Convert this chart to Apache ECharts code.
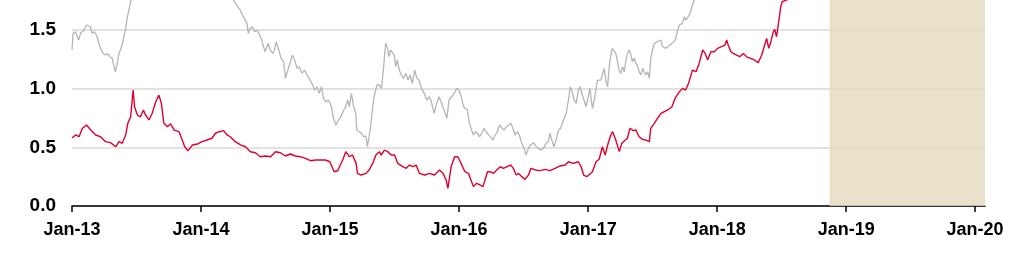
<!DOCTYPE html>
<html>
<head>
<meta charset="utf-8">
<script src="https://cdn.jsdelivr.net/npm/echarts@6/dist/echarts.min.js"></script>
<style>
html,body{margin:0;padding:0;background:#fff;}
#chart{width:1023px;height:275px;}
</style>
</head>
<body>
<div id="chart"></div>
<script>
// ---- data ----
const xTickDates = ['2013-01-01','2014-01-01','2015-01-01','2016-01-01','2017-01-01','2018-01-01','2019-01-01','2020-01-01'];
const xTickLabels = ['Jan-13','Jan-14','Jan-15','Jan-16','Jan-17','Jan-18','Jan-19','Jan-20'];
const yTicks = [0, 0.5, 1.0, 1.5];
const yTickLabels = ['0.0','0.5','1.0','1.5'];
const xStart = '2013-01-01';
const xEnd = '2020-01-29';
const yMax = 1.755;
const shadeStart = '2018-11-15';
const shadeEnd = '2020-01-29';

const redData = [
['2013-01-01',0.58],['2013-01-11',0.605],['2013-01-21',0.59],['2013-01-30',0.66],['2013-02-11',0.69],
['2013-02-23',0.647],['2013-03-09',0.605],['2013-03-23',0.59],['2013-04-06',0.548],['2013-04-20',0.54],
['2013-05-05',0.505],['2013-05-14',0.548],['2013-05-23',0.534],['2013-06-02',0.605],['2013-06-08',0.704],
['2013-06-16',0.76],['2013-06-23',0.988],['2013-06-27',0.846],['2013-07-05',0.775],['2013-07-14',0.76],
['2013-07-22',0.818],['2013-07-28',0.775],['2013-08-07',0.733],['2013-08-16',0.79],['2013-08-26',0.888],
['2013-09-04',0.945],['2013-09-11',0.875],['2013-09-18',0.704],['2013-09-28',0.675],['2013-10-07',0.70],
['2013-10-17',0.647],['2013-10-31',0.633],['2013-11-09',0.562],['2013-11-16',0.505],['2013-11-25',0.47],
['2013-12-08',0.52],['2013-12-22',0.528],['2014-01-04',0.548],['2014-01-18',0.562],['2014-02-01',0.577],
['2014-02-11',0.62],['2014-02-22',0.633],['2014-03-06',0.642],['2014-03-16',0.605],['2014-03-25',0.59],
['2014-04-08',0.548],['2014-04-23',0.52],['2014-05-07',0.505],['2014-05-21',0.462],['2014-06-04',0.454],
['2014-06-18',0.42],['2014-07-02',0.426],['2014-07-17',0.42],['2014-07-31',0.462],['2014-08-14',0.454],
['2014-08-28',0.426],['2014-09-11',0.443],['2014-09-25',0.426],['2014-10-09',0.42],['2014-10-24',0.406],
['2014-11-07',0.386],['2014-11-21',0.392],['2014-12-05',0.392],['2014-12-19',0.392],['2015-01-01',0.377],
['2015-01-13',0.292],['2015-01-23',0.30],['2015-02-06',0.392],['2015-02-15',0.463],['2015-02-25',0.42],
['2015-03-06',0.434],['2015-03-16',0.363],['2015-03-20',0.278],['2015-03-30',0.264],['2015-04-13',0.278],
['2015-04-22',0.307],['2015-05-02',0.363],['2015-05-11',0.434],['2015-05-21',0.463],['2015-05-26',0.434],
['2015-06-04',0.477],['2015-06-14',0.463],['2015-06-23',0.434],['2015-07-03',0.434],['2015-07-12',0.363],
['2015-07-26',0.335],['2015-08-05',0.321],['2015-08-14',0.349],['2015-08-24',0.335],['2015-09-02',0.349],
['2015-09-11',0.278],['2015-09-26',0.264],['2015-10-10',0.278],['2015-10-24',0.264],['2015-11-07',0.307],
['2015-11-17',0.278],['2015-11-26',0.221],['2015-12-01',0.151],['2015-12-10',0.335],['2015-12-20',0.42],
['2015-12-29',0.42],['2016-01-07',0.363],['2016-01-18',0.292],['2016-01-28',0.278],['2016-02-06',0.207],
['2016-02-11',0.165],['2016-02-20',0.193],['2016-03-01',0.179],['2016-03-09',0.165],['2016-03-15',0.221],
['2016-03-22',0.292],['2016-03-29',0.292],['2016-04-08',0.278],['2016-04-17',0.307],['2016-04-27',0.335],
['2016-05-06',0.321],['2016-05-16',0.335],['2016-05-27',0.349],['2016-06-03',0.321],['2016-06-11',0.264],
['2016-06-18',0.278],['2016-06-27',0.25],['2016-07-06',0.227],['2016-07-16',0.264],['2016-07-23',0.321],
['2016-08-04',0.307],['2016-08-18',0.301],['2016-09-01',0.312],['2016-09-15',0.301],['2016-09-29',0.321],
['2016-10-13',0.341],['2016-10-28',0.349],['2016-11-06',0.377],['2016-11-20',0.363],['2016-12-04',0.377],
['2016-12-12',0.335],['2016-12-19',0.264],['2016-12-28',0.25],['2017-01-02',0.25],['2017-01-13',0.292],
['2017-01-23',0.377],['2017-02-01',0.398],['2017-02-10',0.505],['2017-02-18',0.434],['2017-02-25',0.52],
['2017-03-06',0.605],['2017-03-11',0.633],['2017-03-20',0.562],['2017-03-30',0.463],['2017-04-06',0.534],
['2017-04-16',0.562],['2017-04-22',0.577],['2017-04-29',0.662],['2017-05-08',0.642],['2017-05-16',0.647],
['2017-05-25',0.59],['2017-06-04',0.568],['2017-06-13',0.562],['2017-06-23',0.548],['2017-06-27',0.662],
['2017-07-07',0.704],['2017-07-16',0.747],['2017-07-26',0.79],['2017-08-04',0.803],['2017-08-14',0.818],
['2017-08-26',0.846],['2017-09-04',0.917],['2017-09-16',0.974],['2017-09-25',1.002],['2017-10-04',0.988],
['2017-10-12',1.045],['2017-10-23',1.158],['2017-11-02',1.144],['2017-11-11',1.215],['2017-11-21',1.329],
['2017-11-28',1.30],['2017-12-05',1.244],['2017-12-14',1.314],['2017-12-24',1.314],['2018-01-02',1.343],
['2018-01-13',1.357],['2018-01-23',1.371],['2018-01-28',1.414],['2018-02-01',1.371],['2018-02-09',1.314],
['2018-02-15',1.30],['2018-02-25',1.286],['2018-03-06',1.272],['2018-03-16',1.30],['2018-03-20',1.286],
['2018-03-28',1.266],['2018-04-06',1.258],['2018-04-16',1.244],['2018-04-27',1.221],['2018-05-02',1.229],
['2018-05-07',1.286],['2018-05-14',1.357],['2018-05-21',1.428],['2018-05-27',1.343],['2018-06-02',1.40],
['2018-06-09',1.485],['2018-06-13',1.505],['2018-06-18',1.442],['2018-06-23',1.442],['2018-06-26',1.612],
['2018-06-30',1.698],['2018-07-04',1.74],['2018-07-12',1.75],['2018-07-21',1.76],['2018-07-25',1.85]
];

const grayData = [
['2013-01-01',1.329],['2013-01-04',1.471],['2013-01-11',1.485],['2013-01-16',1.442],['2013-01-20',1.414],
['2013-01-25',1.471],['2013-02-04',1.499],['2013-02-11',1.542],['2013-02-15',1.556],['2013-02-22',1.527],
['2013-02-27',1.471],['2013-03-06',1.485],['2013-03-13',1.442],['2013-03-18',1.386],['2013-03-23',1.343],
['2013-03-30',1.30],['2013-04-06',1.286],['2013-04-12',1.30],['2013-04-18',1.272],['2013-04-25',1.258],
['2013-04-29',1.201],['2013-05-04',1.144],['2013-05-09',1.215],['2013-05-14',1.30],['2013-05-20',1.343],
['2013-05-26',1.414],['2013-06-02',1.513],['2013-06-06',1.599],['2013-06-11',1.67],['2013-06-16',1.74],
['2013-06-20',1.80],['2013-11-01',null],['2014-03-30',1.80],
['2014-04-03',1.755],['2014-04-12',1.712],['2014-04-22',1.67],['2014-04-26',1.641],['2014-05-04',1.599],
['2014-05-11',1.556],['2014-05-15',1.471],['2014-05-20',1.513],['2014-05-27',1.527],['2014-06-02',1.485],
['2014-06-08',1.499],['2014-06-14',1.471],['2014-06-22',1.414],['2014-06-27',1.357],['2014-07-02',1.314],
['2014-07-10',1.386],['2014-07-16',1.329],['2014-07-23',1.30],['2014-07-28',1.329],['2014-08-02',1.40],
['2014-08-09',1.329],['2014-08-16',1.258],['2014-08-23',1.229],['2014-08-28',1.088],['2014-09-04',1.158],
['2014-09-11',1.229],['2014-09-17',1.286],['2014-09-23',1.244],['2014-09-30',1.173],['2014-10-06',1.187],
['2014-10-14',1.13],['2014-10-21',1.158],['2014-10-28',1.116],['2014-11-06',1.073],['2014-11-13',1.031],
['2014-11-19',0.988],['2014-11-25',1.016],['2014-12-02',0.96],['2014-12-08',1.016],['2014-12-14',0.917],
['2014-12-21',0.888],['2014-12-28',0.903],['2015-01-05',0.846],['2015-01-11',0.747],['2015-01-18',0.69],
['2015-01-25',0.733],['2015-02-01',0.761],['2015-02-09',0.818],['2015-02-15',0.846],['2015-02-20',0.903],
['2015-02-25',0.846],['2015-03-03',0.96],['2015-03-09',0.846],['2015-03-15',0.79],['2015-03-18',0.647],
['2015-03-25',0.633],['2015-03-31',0.619],['2015-04-06',0.59],['2015-04-13',0.596],['2015-04-17',0.505],
['2015-04-22',0.59],['2015-04-27',0.704],['2015-05-01',0.818],['2015-05-06',0.931],['2015-05-14',1.031],
['2015-05-20',1.031],['2015-05-27',1.002],['2015-06-02',1.187],['2015-06-05',1.30],['2015-06-08',1.386],
['2015-06-13',1.343],['2015-06-17',1.272],['2015-06-22',1.329],['2015-06-27',1.314],['2015-07-02',1.286],
['2015-07-06',1.187],['2015-07-11',1.244],['2015-07-16',1.158],['2015-07-22',1.116],['2015-07-28',1.088],
['2015-08-04',1.13],['2015-08-10',1.073],['2015-08-16',1.116],['2015-08-22',1.045],['2015-08-29',1.158],
['2015-09-04',1.088],['2015-09-10',1.073],['2015-09-17',1.002],['2015-09-25',0.96],['2015-10-02',0.903],
['2015-10-09',0.931],['2015-10-15',0.888],['2015-10-23',0.79],['2015-10-30',0.875],['2015-11-06',0.931],
['2015-11-13',0.875],['2015-11-20',0.818],['2015-11-28',0.747],['2015-12-04',0.903],['2015-12-11',0.931],
['2015-12-19',0.96],['2015-12-26',1.002],['2016-01-01',0.988],['2016-01-08',0.931],['2016-01-14',0.846],
['2016-01-25',0.818],['2016-01-31',0.704],['2016-02-06',0.647],['2016-02-11',0.605],['2016-02-16',0.633],
['2016-02-23',0.619],['2016-02-28',0.59],['2016-03-06',0.619],['2016-03-12',0.662],['2016-03-18',0.633],
['2016-03-25',0.605],['2016-03-31',0.59],['2016-04-06',0.562],['2016-04-13',0.605],['2016-04-19',0.633],
['2016-04-25',0.69],['2016-05-02',0.662],['2016-05-08',0.647],['2016-05-14',0.675],['2016-05-21',0.69],
['2016-05-27',0.704],['2016-06-02',0.662],['2016-06-08',0.605],['2016-06-15',0.633],['2016-06-20',0.605],
['2016-06-27',0.534],['2016-07-04',0.491],['2016-07-09',0.434],['2016-07-16',0.491],['2016-07-22',0.52],
['2016-07-30',0.539],['2016-08-07',0.505],['2016-08-13',0.491],['2016-08-20',0.477],['2016-08-27',0.491],
['2016-09-04',0.534],['2016-09-10',0.548],['2016-09-15',0.619],['2016-09-20',0.562],['2016-09-26',0.505],
['2016-10-02',0.562],['2016-10-09',0.647],['2016-10-15',0.662],['2016-10-23',0.733],['2016-10-31',0.79],
['2016-11-06',0.903],['2016-11-11',1.016],['2016-11-15',0.988],['2016-11-22',0.903],['2016-11-28',0.875],
['2016-12-04',0.988],['2016-12-09',1.016],['2016-12-14',0.96],['2016-12-20',0.903],['2016-12-26',0.846],
['2017-01-02',0.945],['2017-01-06',1.002],['2017-01-09',0.917],['2017-01-13',0.832],['2017-01-18',0.903],
['2017-01-23',0.988],['2017-01-27',1.073],['2017-02-01',1.088],['2017-02-06',1.073],['2017-02-10',1.116],
['2017-02-15',1.173],['2017-02-20',1.073],['2017-02-25',1.016],['2017-03-01',1.173],['2017-03-06',1.286],
['2017-03-10',1.343],['2017-03-15',1.329],['2017-03-20',1.30],['2017-03-25',1.229],['2017-03-29',1.158],
['2017-04-03',1.13],['2017-04-08',1.187],['2017-04-13',1.144],['2017-04-17',1.229],['2017-04-22',1.30],
['2017-04-27',1.329],['2017-05-02',1.286],['2017-05-06',1.229],['2017-05-11',1.258],['2017-05-16',1.215],
['2017-05-21',1.187],['2017-05-25',1.144],['2017-05-30',1.116],['2017-06-04',1.173],['2017-06-08',1.144],
['2017-06-13',1.116],['2017-06-18',1.144],['2017-06-23',1.088],['2017-06-27',1.258],['2017-07-02',1.329],
['2017-07-07',1.386],['2017-07-11',1.371],['2017-07-16',1.40],['2017-07-21',1.386],['2017-07-26',1.414],
['2017-07-30',1.357],['2017-08-04',1.371],['2017-08-09',1.343],['2017-08-14',1.357],['2017-08-20',1.371],
['2017-08-26',1.386],['2017-09-01',1.40],['2017-09-06',1.428],['2017-09-11',1.499],['2017-09-16',1.542],
['2017-09-20',1.527],['2017-09-25',1.556],['2017-09-30',1.612],['2017-10-04',1.584],['2017-10-09',1.599],
['2017-10-14',1.627],['2017-10-19',1.67],['2017-10-23',1.712],['2017-10-28',1.755],['2017-11-02',1.82]
];

// ---- chart ----
const toTs = s => Date.parse(s + 'T00:00:00Z');
const xTickTs = xTickDates.map(toTs);
const toPoints = arr => arr.map(d => [toTs(d[0]), d[1]]);
const FONT = '"Liberation Sans", Arial, sans-serif';

const chart = echarts.init(document.getElementById('chart'), null, {renderer: 'canvas'});
chart.setOption({
  animation: false,
  backgroundColor: '#ffffff',
  grid: {left: 72, right: 38, top: 0, bottom: 69, containLabel: false},
  xAxis: {
    type: 'value',
    min: toTs(xStart),
    max: toTs(xEnd),
    axisLine: {show: true, lineStyle: {color: '#000', width: 1.5}},
    axisTick: {show: true, length: 6, lineStyle: {color: '#000', width: 1.5}, customValues: xTickTs},
    axisLabel: {
      customValues: xTickTs,
      margin: 15,
      color: '#000',
      fontFamily: FONT,
      fontWeight: 'bold',
      fontSize: 18,
      formatter: function (v) {
        const i = xTickTs.indexOf(v);
        return i >= 0 ? xTickLabels[i] : '';
      }
    },
    splitLine: {show: false}
  },
  yAxis: {
    type: 'value',
    min: 0,
    max: yMax,
    interval: 0.5,
    axisLine: {show: false},
    axisTick: {show: false},
    axisLabel: {
      margin: 16,
      color: '#000',
      fontFamily: FONT,
      fontWeight: 'bold',
      fontSize: 19,
      showMaxLabel: false,
      formatter: function (v) {
        const i = yTicks.findIndex(t => Math.abs(t - v) < 1e-6);
        return i >= 0 ? yTickLabels[i] : '';
      }
    },
    splitLine: {show: true, showMaxLine: false, lineStyle: {color: '#d9d9d9', width: 1.5}}
  },
  series: [
    {
      name: 'gray',
      type: 'line',
      data: toPoints(grayData),
      showSymbol: false,
      connectNulls: false,
      clip: true,
      lineStyle: {color: '#b5b5b5', width: 1.3},
      z: 2
    },
    {
      name: 'red',
      type: 'line',
      data: toPoints(redData),
      showSymbol: false,
      clip: true,
      lineStyle: {color: '#e0002d', width: 1.4},
      z: 3,
      markArea: {
        silent: true,
        itemStyle: {color: '#e3d9bd', opacity: 0.8},
        data: [[{xAxis: toTs(shadeStart)}, {xAxis: toTs(shadeEnd)}]]
      }
    }
  ]
});
</script>
</body>
</html>
